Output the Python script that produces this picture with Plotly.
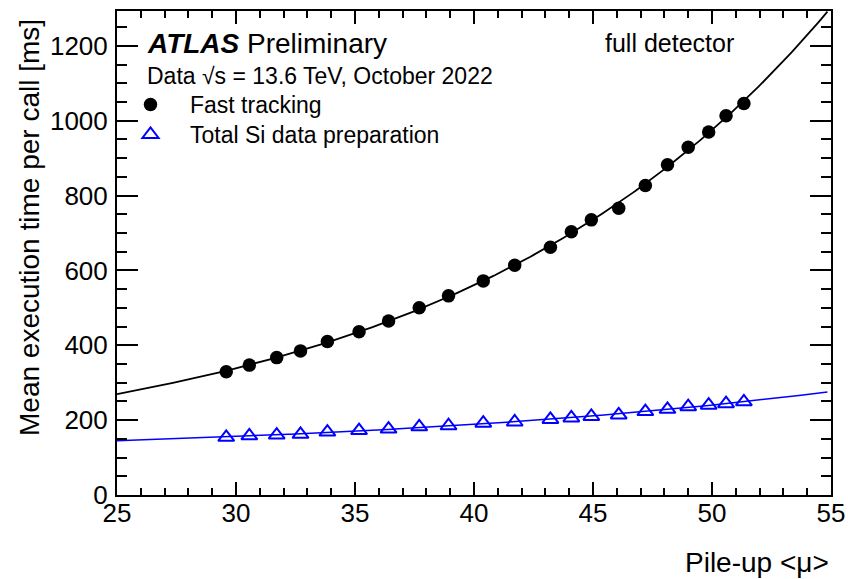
import numpy as np
import plotly.graph_objects as go

# Mean pile-up of each measured point
mu_fast = [29.59, 30.56, 31.71, 32.71, 33.84, 35.17, 36.41, 37.70, 38.93, 40.39, 41.71,
           43.21, 44.09, 44.93, 46.08, 47.20, 48.13, 49.00, 49.86, 50.59, 51.34]
# Mean execution time per call [ms]
t_fast = [329, 347, 367, 385, 410, 436, 465, 500, 532, 572, 614,
          662, 703, 735, 766, 827, 882, 929, 970, 1013, 1046]
t_si = [154, 158, 160, 162, 168, 172, 176, 182, 185, 192, 195,
        202, 206, 210, 214, 223, 229, 236, 240, 244, 249]

fit_range = [25.0, 54.85]

x_ticks = [25, 30, 35, 40, 45, 50, 55]
y_ticks = [0, 200, 400, 600, 800, 1000, 1200]

FONT = "Liberation Sans"
BLUE = "#0000ff"


def fit_exp(x, y):
    """Least-squares fit of t(mu) = a + b*exp(c*mu); returns a callable."""
    x = np.asarray(x, float)
    y = np.asarray(y, float)
    best = None
    for c in np.linspace(0.001, 0.2, 4000):
        A = np.column_stack([np.ones_like(x), np.exp(c * x)])
        coef, *_ = np.linalg.lstsq(A, y, rcond=None)
        res = np.sum((A @ coef - y) ** 2)
        if best is None or res < best[0]:
            best = (res, c, coef)
    _, c, (a, b) = best
    return lambda m: a + b * np.exp(c * m)


x_fit = np.linspace(fit_range[0], fit_range[1], 300)
fast_fit = fit_exp(mu_fast, t_fast)(x_fit)
si_fit = fit_exp(mu_fast, t_si)(x_fit)

fig = go.Figure()
fig.add_trace(go.Scatter(x=x_fit, y=fast_fit, mode="lines",
                         line=dict(color="black", width=1.8), showlegend=False,
                         hoverinfo="skip"))
fig.add_trace(go.Scatter(x=x_fit, y=si_fit, mode="lines",
                         line=dict(color=BLUE, width=1.5), showlegend=False,
                         hoverinfo="skip"))
fig.add_trace(go.Scatter(x=mu_fast, y=t_fast, mode="markers", name="Fast tracking",
                         legend="legend",
                         marker=dict(symbol="circle", size=13.5, color="black",
                                     line=dict(width=0))))
fig.add_trace(go.Scatter(x=mu_fast, y=t_si, mode="markers", name="Total Si data preparation",
                         legend="legend2",
                         marker=dict(symbol="triangle-up-open", size=14, color=BLUE,
                                     line=dict(width=2, color=BLUE))))

axis_common = dict(
    showline=True, linecolor="black", linewidth=2, mirror="allticks",
    ticks="inside", tickcolor="black", tickwidth=1.5,
    showgrid=False, zeroline=False, automargin=False,
    tickfont=dict(family=FONT, size=26, color="black"),
)

fig.update_xaxes(range=[25, 55], tickvals=x_ticks, ticklen=13,
                 minor=dict(dtick=1, ticks="inside", ticklen=7, tickwidth=1.5,
                            tickcolor="black", showgrid=False),
                 ticklabelstandoff=-6, **axis_common)
fig.update_yaxes(range=[0, 1293], tickvals=y_ticks, ticklen=21,
                 minor=dict(dtick=50, ticks="inside", ticklen=10, tickwidth=1.5,
                            tickcolor="black", showgrid=False),
                 ticklabelstandoff=2, **axis_common)

# Plot area spans 117..831 px horizontally and 11..495 px vertically
W, H = 848, 579
ML, MR, MT, MB = 117, 17, 11, 84
PW, PH = W - ML - MR, H - MT - MB


def px(x):
    return (x - ML) / PW


def py(y):
    return (H - MB - y) / PH


annotations = [
    dict(text="<b><i>ATLAS</i></b> Preliminary", x=px(145), y=py(43.5),
         xanchor="left", yanchor="middle", font=dict(family=FONT, size=28)),
    dict(text="Data √s = 13.6 TeV, October 2022", x=px(145), y=py(76),
         xanchor="left", yanchor="middle", font=dict(family=FONT, size=23)),
    dict(text="full detector", x=px(603), y=py(43),
         xanchor="left", yanchor="middle", font=dict(family=FONT, size=25)),
    dict(text="Pile-up &lt;μ&gt;", x=1.0, y=py(562),
         xanchor="right", yanchor="middle", font=dict(family=FONT, size=28)),
    dict(text="Mean execution time per call [ms]", x=px(29), y=py(228),
         xanchor="center", yanchor="middle", textangle=-90,
         font=dict(family=FONT, size=28)),
]
for a in annotations:
    a.update(xref="paper", yref="paper", showarrow=False)
    a["font"]["color"] = "black"

legend_common = dict(xanchor="left", yanchor="top", bgcolor="rgba(0,0,0,0)",
                     borderwidth=0, itemwidth=69,
                     font=dict(family=FONT, size=23, color="black"))

fig.update_layout(
    width=W, height=H,
    margin=dict(l=ML, r=MR, t=MT, b=MB, pad=0),
    paper_bgcolor="white", plot_bgcolor="white",
    annotations=annotations,
    showlegend=True,
    legend=dict(x=px(111), y=py(83), **legend_common),
    legend2=dict(x=px(111), y=py(113), **legend_common),
)

fig.write_html("out.html")
